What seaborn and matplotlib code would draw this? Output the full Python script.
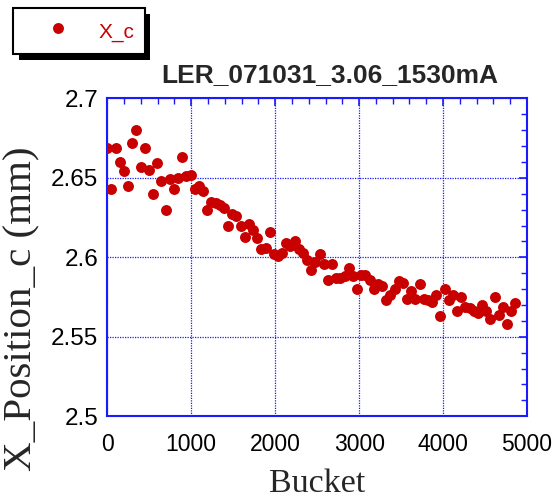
import numpy as np
import pandas as pd
import matplotlib
matplotlib.use("Agg")
import matplotlib.pyplot as plt
import matplotlib.patheffects as pe
from matplotlib.ticker import MultipleLocator
import seaborn as sns

# ---- data ----
bucket = [0, 50, 99, 149, 198, 248, 298, 347, 397, 446, 496, 546, 595, 645, 694,
          744, 794, 843, 893, 942, 992, 1042, 1091, 1141, 1190, 1240, 1290, 1339,
          1389, 1438, 1488, 1538, 1587, 1637, 1686, 1736, 1786, 1835, 1885, 1934,
          1984, 2034, 2083, 2133, 2182, 2232, 2282, 2331, 2381, 2430, 2480, 2530,
          2579, 2629, 2678, 2728, 2778, 2827, 2877, 2926, 2976, 3026, 3075, 3125,
          3174, 3224, 3274, 3323, 3373, 3422, 3472, 3522, 3571, 3621, 3670, 3720,
          3770, 3819, 3869, 3918, 3968, 4018, 4067, 4117, 4166, 4216, 4266, 4315,
          4365, 4414, 4464, 4514, 4563, 4613, 4662, 4712, 4762, 4811, 4861]
x_position_c = [2.669, 2.643, 2.669, 2.660, 2.654, 2.645, 2.672, 2.680, 2.657, 2.669,
                2.655, 2.640, 2.659, 2.648, 2.630, 2.649, 2.643, 2.650, 2.663, 2.651,
                2.652, 2.643, 2.645, 2.642, 2.630, 2.635, 2.634, 2.633, 2.631, 2.620,
                2.627, 2.626, 2.620, 2.613, 2.621, 2.617, 2.612, 2.605, 2.606, 2.616,
                2.602, 2.601, 2.603, 2.609, 2.607, 2.610, 2.605, 2.603, 2.598, 2.592,
                2.597, 2.602, 2.596, 2.586, 2.596, 2.587, 2.587, 2.588, 2.593, 2.588,
                2.580, 2.589, 2.589, 2.586, 2.580, 2.583, 2.582, 2.573, 2.576, 2.580,
                2.585, 2.584, 2.574, 2.579, 2.574, 2.583, 2.574, 2.573, 2.572, 2.576,
                2.563, 2.580, 2.573, 2.576, 2.566, 2.575, 2.569, 2.568, 2.566, 2.565,
                2.570, 2.566, 2.561, 2.575, 2.564, 2.569, 2.558, 2.566, 2.571]
series_name = "X_c"
title = "LER_071031_3.06_1530mA"
x_label = "Bucket"
y_label = "X_Position_c (mm)"
x_ticks = [0, 1000, 2000, 3000, 4000, 5000]
y_ticks = [2.5, 2.55, 2.6, 2.65, 2.7]
y_tick_labels = ["2.5", "2.55", "2.6", "2.65", "2.7"]

df = pd.DataFrame({"Bucket": bucket, "X": x_position_c})

sns.set_style("white")
plt.rcParams["font.family"] = ["Liberation Sans", "DejaVu Sans"]

W, H = 555, 503
fig = plt.figure(figsize=(W / 100, H / 100), dpi=100)
ax = fig.add_axes([107.3 / W, 1 - 416.3 / H, (527 - 107.3) / W, (416.3 - 98.3) / H])

red = "#c80000"
blue = "#1a1aff"

sns.scatterplot(data=df, x="Bucket", y="X", ax=ax, color=red, s=62,
                linewidth=0, label=series_name, zorder=3)

ax.set_xlim(0, 5000)
ax.set_ylim(2.5, 2.7)
ax.set_xticks(x_ticks)
ax.set_xticklabels([str(t) for t in x_ticks])
ax.set_yticks(y_ticks)
ax.set_yticklabels(y_tick_labels)
ax.xaxis.set_minor_locator(MultipleLocator(200))
ax.yaxis.set_minor_locator(MultipleLocator(0.01))

for s in ax.spines.values():
    s.set_color(blue)
    s.set_linewidth(1.5)

ax.tick_params(which="both", direction="in", top=True, right=True,
               color=blue, labelcolor="black")
ax.tick_params(which="major", length=6, width=1.2)
ax.tick_params(axis="x", which="major", pad=12, labelsize=16.5)
ax.tick_params(axis="y", which="major", pad=6.5, labelsize=17.5)
ax.tick_params(which="minor", length=4, width=1.0)

ax.grid(True, which="major", color=blue, linestyle=(0, (1, 1)), linewidth=0.9)

ax.set_xlabel(x_label, family=["Liberation Serif", "DejaVu Serif"], fontsize=24.5, labelpad=9)
ax.set_ylabel(y_label, family=["Liberation Serif", "DejaVu Serif"], fontsize=29.5)
ax.yaxis.set_label_coords((40 - 107.3) / 419.7, (416.3 - 309) / 318)

fig.text(330 / W, 1 - 75 / H, title, ha="center", va="center",
         fontsize=19, fontweight="bold")

ax.get_legend().remove()
leg = fig.legend(loc="upper left", bbox_to_anchor=(13 / W, 1 - 8 / H),
                 bbox_transform=fig.transFigure, borderaxespad=0,
                 fontsize=15, labelcolor=red, fancybox=False, frameon=True,
                 edgecolor="black", framealpha=1, borderpad=0.5,
                 handlelength=3.3, handleheight=1.5, handletextpad=0.3,
                 markerscale=1.0)
leg.get_frame().set_linewidth(1.5)
leg.get_frame().set_path_effects([
    pe.SimplePatchShadow(offset=(4, -4), shadow_rgbFace="black", alpha=1.0),
    pe.Normal()])

fig.savefig("out.png", dpi=100, facecolor="white")
